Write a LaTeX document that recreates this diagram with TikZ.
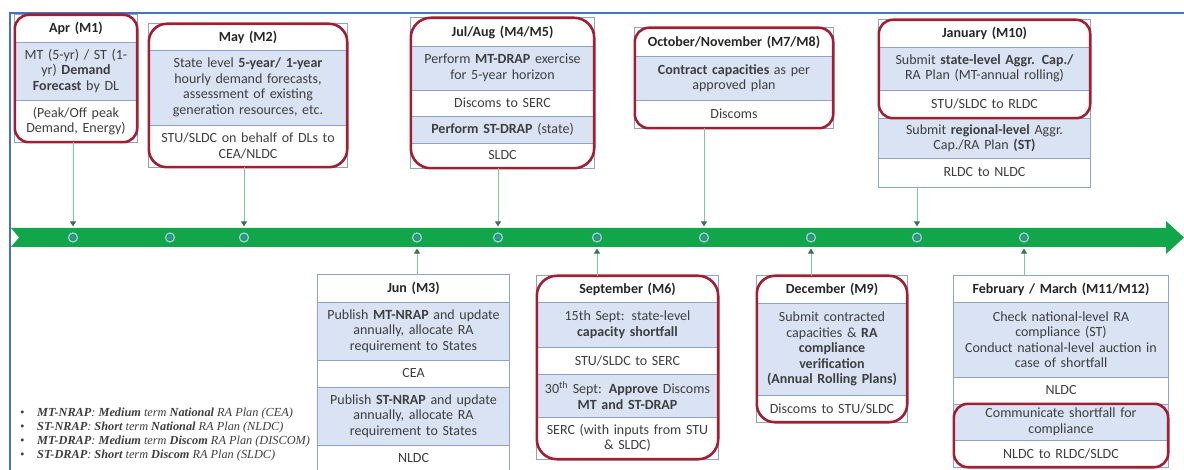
\documentclass[tikz,border=0pt]{standalone}
\usepackage{fontspec}
\setmainfont{Carlito}
\newfontfamily\legfont{Liberation Serif}
\usetikzlibrary{arrows.meta}
\definecolor{redb}{HTML}{A11F33}
\definecolor{rowblue}{HTML}{DAE3F3}
\definecolor{gridc}{HTML}{8FA3C4}
\definecolor{bandg}{HTML}{12A64A}
\definecolor{connc}{HTML}{7CC8A0}
\definecolor{tipc}{HTML}{3E6E57}
\definecolor{ringc}{HTML}{A9CBEA}
\definecolor{dotc}{HTML}{4F81BD}
\definecolor{framec}{HTML}{4472C4}
\definecolor{txt}{HTML}{3E3E3E}
\tikzset{
 cellbase/.style={inner sep=0pt, align=center, font=\fontsize{14}{15.5}\selectfont, text=txt, anchor=center},
 hdr/.style={fill=white, font=\fontsize{14}{15.5}\selectfont\bfseries, text=black!85},
 bl/.style={fill=rowblue},
 wh/.style={fill=white},
 outerline/.style={draw=gridc, line width=0.8pt},
 sepline/.style={draw=gridc, line width=0.8pt},
 redbox/.style={draw=redb, line width=2.6pt, rounded corners=14pt},
 conn/.style={draw=connc, line width=0.8pt, shorten >=6pt, -{Triangle[length=5pt,width=6pt,color=tipc]}},
 marker/.style={circle, draw=ringc, line width=1.2pt, fill=bandg, minimum size=9pt, inner sep=0pt,
   path picture={\fill[dotc] (path picture bounding box.center) circle (2pt);}},
 legend/.style={font=\legfont\itshape\fontsize{12.3}{14}\selectfont, text=txt, inner sep=0pt, anchor=west},
}
\newcommand\cell[7]{%
 \pgfmathsetmacro\cw{#4-#2}\pgfmathsetmacro\ch{#5-#3}%
 \pgfmathsetmacro\cx{(#2+#4)/2}\pgfmathsetmacro\cy{(#3+#5)/2}\pgfmathsetmacro\tw{#4-#2-2}%
 \node[cellbase,#6,minimum width=\cw pt,minimum height=\ch pt,text width=\tw pt] (#1) at (\cx,\cy) {#7};}
\newcommand\sepl[1]{\draw[sepline] (#1.south west) -- (#1.south east);}
\begin{document}
\begin{tikzpicture}[x=1pt,y=-1pt]
\useasboundingbox (0,0) rectangle (1184,470);
% frame
\draw[framec, line width=1.8pt] (10,472) -- (10,13) -- (1186,13);
% band
\fill[bandg] (11,228) -- (1166,228) -- (1166,221) -- (1184,237.5) -- (1166,254) -- (1166,247) -- (11,247) -- (19,237.5) -- cycle;
% markers
\foreach \n/\x in {m1/73,m2/170,m3/244,m4/417,m5/498,m6/597,m7/704,m8/811,m9/917,m10/1024}
  \node[marker] (\n) at (\x,237.5) {};

% Apr
\cell{aprH}{15}{15}{137}{42}{hdr}{Apr (M1)}
\cell{aprB}{15}{42}{137}{100}{bl}{MT (5-yr) / ST (1-\\yr) \textbf{Demand}\\\textbf{Forecast} by DL}
\cell{aprC}{15}{100}{137}{142}{wh}{(Peak/Off peak\\Demand, Energy)}
\sepl{aprH}\sepl{aprB}
\draw[outerline] (aprH.north west) rectangle (aprC.south east);
\draw[redbox] (aprH.north west) rectangle (aprC.south east);

% May
\cell{mayH}{149}{24}{347}{50}{hdr}{May (M2)}
\cell{mayB}{149}{50}{347}{125}{bl}{State level \textbf{5-year/ 1-year}\\hourly demand forecasts,\\assessment of existing\\generation resources, etc.}
\cell{mayC}{149}{125}{347}{167}{wh}{STU/SLDC on behalf of DLs to\\CEA/NLDC}
\sepl{mayH}\sepl{mayB}
\draw[outerline] (mayH.north west) rectangle (mayC.south east);
\draw[redbox, rounded corners=18pt] (mayH.north west) rectangle (mayC.south east);

% Jul/Aug
\cell{julH}{411}{18}{594}{46}{hdr}{Jul/Aug (M4/M5)}
\cell{julB}{411}{46}{594}{90}{bl}{Perform \textbf{MT-DRAP} exercise\\for 5-year horizon}
\cell{julC}{411}{90}{594}{116}{wh}{Discoms to SERC}
\cell{julD}{411}{116}{594}{143}{bl}{\textbf{Perform ST-DRAP} (state)}
\cell{julE}{411}{143}{594}{168}{wh}{SLDC}
\sepl{julH}\sepl{julB}\sepl{julC}\sepl{julD}
\draw[outerline] (julH.north west) rectangle (julE.south east);
\draw[redbox, rounded corners=20pt] (julH.north west) rectangle (julE.south east);

% Oct/Nov
\cell{octH}{635}{28}{833}{56}{hdr}{October/November (M7/M8)}
\cell{octB}{635}{56}{833}{100}{bl}{\textbf{Contract capacities} as per\\approved plan}
\cell{octC}{635}{100}{833}{128}{wh}{Discoms}
\sepl{octH}\sepl{octB}
\draw[outerline] (octH.north west) rectangle (octC.south east);
\draw[redbox] (octH.north west) rectangle (octC.south east);

% January
\cell{janH}{879}{20}{1090}{47}{hdr}{January (M10)}
\cell{janB}{879}{47}{1090}{90}{bl}{Submit \textbf{state-level Aggr. Cap./}\\RA Plan (MT-annual rolling)}
\cell{janC}{879}{90}{1090}{118}{wh}{STU/SLDC to RLDC}
\cell{janD}{879}{118}{1090}{158}{bl}{Submit \textbf{regional-level} Aggr.\\Cap./RA Plan \textbf{(ST)}}
\cell{janE}{879}{158}{1090}{187}{wh}{RLDC to NLDC}
\sepl{janH}\sepl{janB}\sepl{janC}\sepl{janD}
\draw[outerline] (janH.north west) rectangle (janE.south east);
\draw[redbox] (janH.north west) rectangle (janC.south east);

% Jun
\cell{junH}{318}{275}{509}{302}{hdr}{Jun (M3)}
\cell{junB}{318}{302}{509}{360}{bl}{Publish \textbf{MT-NRAP} and update\\annually, allocate RA\\requirement to States}
\cell{junC}{318}{360}{509}{387}{wh}{CEA}
\cell{junD}{318}{387}{509}{445}{bl}{Publish \textbf{ST-NRAP} and update\\annually, allocate RA\\requirement to States}
\cell{junE}{318}{445}{509}{472}{wh}{NLDC}
\sepl{junH}\sepl{junB}\sepl{junC}\sepl{junD}
\draw[outerline] (junH.north west) rectangle (junE.south east);

% September
\cell{sepH}{537}{276}{718}{302}{hdr}{September (M6)}
\cell{sepB}{537}{302}{718}{347}{bl}{15th Sept: state-level\\\textbf{capacity shortfall}}
\cell{sepC}{537}{347}{718}{374}{wh}{STU/SLDC to SERC}
\cell{sepD}{537}{374}{718}{417}{bl}{30\textsuperscript{th} Sept: \textbf{Approve} Discoms\\\textbf{MT and ST-DRAP}}
\cell{sepE}{537}{417}{718}{459}{wh}{SERC (with inputs from STU\\\& SLDC)}
\sepl{sepH}\sepl{sepB}\sepl{sepC}\sepl{sepD}
\draw[outerline] (sepH.north west) rectangle (sepE.south east);
\draw[redbox, rounded corners=20pt] (sepH.north west) rectangle (sepE.south east);

% December
\cell{decH}{757}{276}{907}{303}{hdr}{December (M9)}
\cell{decB}{757}{303}{907}{395}{bl}{Submit contracted\\capacities \& \textbf{RA}\\\textbf{compliance}\\\textbf{verification}\\\textbf{(Annual Rolling Plans)}}
\cell{decC}{757}{395}{907}{422}{wh}{Discoms to STU/SLDC}
\sepl{decH}\sepl{decB}
\draw[outerline] (decH.north west) rectangle (decC.south east);
\draw[redbox, rounded corners=18pt] (decH.north west) rectangle (decC.south east);

% Feb/Mar
\cell{febH}{954}{276}{1168}{302}{hdr}{February / March (M11/M12)}
\cell{febB}{954}{302}{1168}{377}{bl}{Check national-level RA\\compliance (ST)\\Conduct national-level auction in\\case of shortfall}
\cell{febC}{954}{377}{1168}{404}{wh}{NLDC}
\cell{febD}{954}{404}{1168}{440}{bl}{Communicate shortfall for\\compliance}
\cell{febE}{954}{440}{1168}{467}{wh}{NLDC to RLDC/SLDC}
\sepl{febH}\sepl{febB}\sepl{febC}\sepl{febD}
\draw[outerline] (febH.north west) rectangle (febE.south east);
\draw[redbox] (febD.north west) rectangle (febE.south east);

% connectors
\draw[conn] (aprC.south -| m1) -- (m1.north);
\draw[conn] (mayC.south -| m3) -- (m3.north);
\draw[conn] (julE.south -| m5) -- (m5.north);
\draw[conn] (octC.south -| m7) -- (m7.north);
\draw[conn] (janE.south -| m9) -- (m9.north);
\draw[conn] (junH.north -| m4) -- (m4.south);
\draw[conn] (sepH.north -| m6) -- (m6.south);
\draw[conn] (decH.north -| m8) -- (m8.south);
\draw[conn] (febH.north -| m10) -- (m10.south);

% legend
\node[legend] (leg1) at (20,414) {\makebox[17pt][l]{\textbullet}\textbf{MT-NRAP}: \textbf{Medium} term \textbf{National} RA Plan (CEA)};
\node[legend] (leg2) at (20,428) {\makebox[17pt][l]{\textbullet}\textbf{ST-NRAP}: \textbf{Short} term \textbf{National} RA Plan (NLDC)};
\node[legend] (leg3) at (20,442) {\makebox[17pt][l]{\textbullet}\textbf{MT-DRAP}: \textbf{Medium} term \textbf{Discom} RA Plan (DISCOM)};
\node[legend] (leg4) at (20,456) {\makebox[17pt][l]{\textbullet}\textbf{ST-DRAP}: \textbf{Short} term \textbf{Discom} RA Plan (SLDC)};
\end{tikzpicture}
\end{document}
